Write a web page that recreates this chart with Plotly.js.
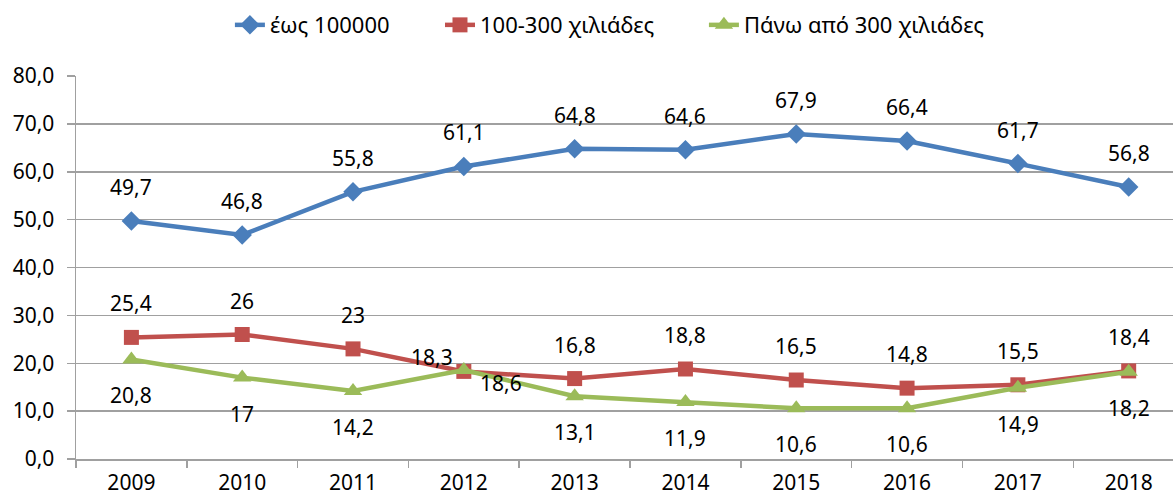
<!DOCTYPE html>
<html>
<head>
<meta charset="utf-8">
<script src="https://cdn.plot.ly/plotly-3.0.1.min.js"></script>
<style>html,body{margin:0;padding:0;background:#fff}#chart{width:1173px;height:500px}</style>
</head>
<body>
<div id="chart"></div>
<script>
const years = ['2009','2010','2011','2012','2013','2014','2015','2016','2017','2018'];
const seriesNames = ['έως 100000', '100-300 χιλιάδες', 'Πάνω από 300 χιλιάδες'];
const upTo100k = [49.7, 46.8, 55.8, 61.1, 64.8, 64.6, 67.9, 66.4, 61.7, 56.8];
const from100to300k = [25.4, 26, 23, 18.3, 16.8, 18.8, 16.5, 14.8, 15.5, 18.4];
const over300k = [20.8, 17, 14.2, 18.6, 13.1, 11.9, 10.6, 10.6, 14.9, 18.2];
const yTicks = [0, 10, 20, 30, 40, 50, 60, 70, 80];

const FONT = 'Noto Sans, Open Sans, sans-serif';
const colors = ['#4A7EBB', '#C0504D', '#9BBB59'];
const symbols = ['diamond', 'square', 'triangle-up'];
const msizes = [15, 15, 16];
const legendIds = ['legend', 'legend2', 'legend3'];
const legendX = [0.1403, 0.3318, 0.5724];
const allData = [upTo100k, from100to300k, over300k];

const traces = allData.map((vals, i) => ({
  type: 'scatter', mode: 'lines+markers', name: seriesNames[i],
  x: years, y: vals, legend: legendIds[i],
  line: {color: colors[i], width: 4.5},
  marker: {color: colors[i], symbol: symbols[i], size: msizes[i]},
  hoverinfo: 'skip'
}));

const fmt = v => String(v).replace('.', ',');
const annotations = [];
allData.forEach((vals, i) => {
  vals.forEach((v, j) => {
    let xs = 0, ys = (i === 2) ? -36 : 34;
    if (i === 1 && years[j] === '2012') { xs = -32; ys = 14; }
    if (i === 2 && years[j] === '2012') { xs = 37; ys = -13; }
    annotations.push({
      x: j, y: v, xref: 'x', yref: 'y', text: fmt(v), showarrow: false,
      xshift: xs, yshift: ys,
      font: {family: FONT, size: 21, color: '#000000'}
    });
  });
});

const layout = {
  width: 1173, height: 500,
  margin: {l: 76, r: 0, t: 76, b: 41, pad: 0},
  paper_bgcolor: '#fff', plot_bgcolor: '#fff',
  separators: ',.',
  showlegend: true,
  xaxis: {
    type: 'category', range: [-0.5, 9.4],
    showgrid: false, showline: true, linecolor: '#A0A0A0', linewidth: 1.5,
    ticks: 'outside', tickson: 'boundaries', ticklen: 7, tickcolor: '#A0A0A0', tickwidth: 1.5,
    ticklabelstandoff: 4,
    tickfont: {family: FONT, size: 21, color: '#000'},
    fixedrange: true
  },
  yaxis: {
    range: [0, 80], tickvals: yTicks, tickformat: '.1f',
    showgrid: true, gridcolor: '#A0A0A0', gridwidth: 1.5,
    showline: true, linecolor: '#A0A0A0', linewidth: 1.5,
    ticks: 'outside', ticklen: 8, tickcolor: '#A0A0A0', tickwidth: 1.5,
    ticklabelstandoff: 8,
    tickfont: {family: FONT, size: 21, color: '#000'},
    zeroline: false, fixedrange: true
  },
  annotations: annotations
};
legendIds.forEach((id, i) => {
  layout[id] = {
    orientation: 'h', x: legendX[i], xanchor: 'left', y: 1.133, yanchor: 'middle',
    font: {family: FONT, size: 22, color: '#000'}, bgcolor: 'rgba(0,0,0,0)'
  };
});

Plotly.newPlot('chart', traces, layout, {staticPlot: true, displayModeBar: false});
</script>
</body>
</html>
